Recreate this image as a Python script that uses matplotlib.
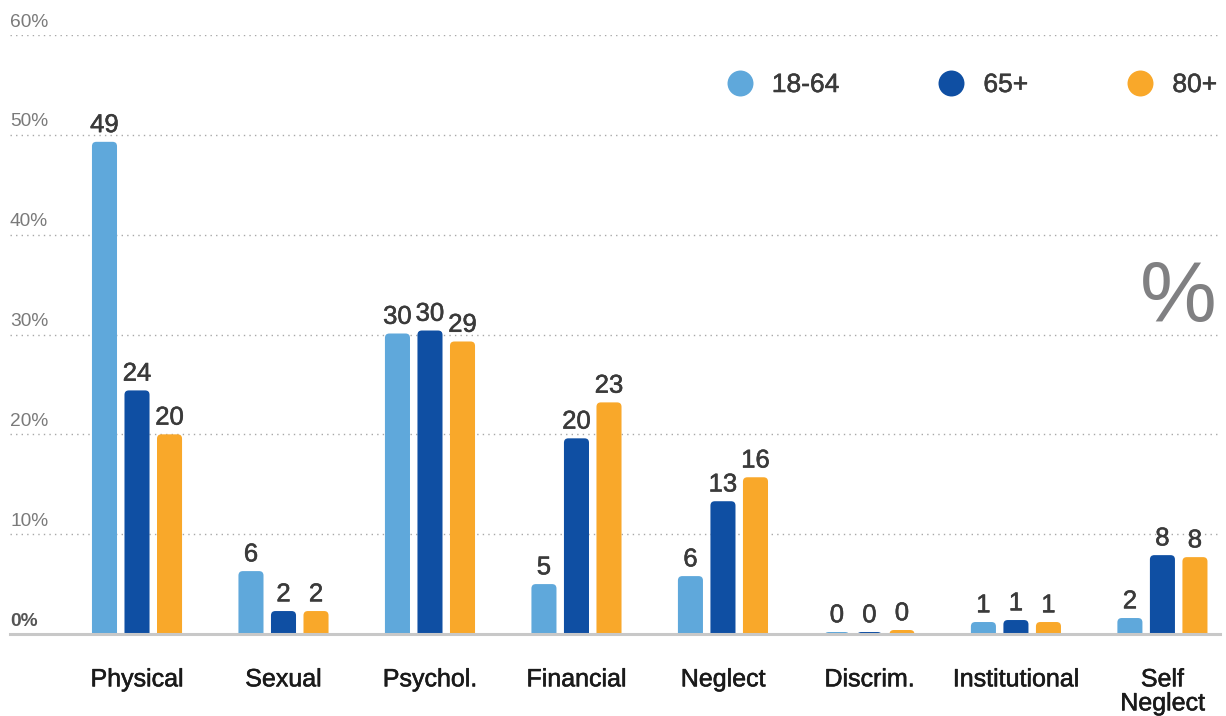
import numpy as np
import matplotlib
matplotlib.use("Agg")
import matplotlib.pyplot as plt
import matplotlib.patheffects as pe
from matplotlib.patches import FancyBboxPatch
from matplotlib.lines import Line2D
import matplotlib.transforms as mtransforms

plt.rcParams['font.family'] = ['Liberation Sans', 'DejaVu Sans']

# abuse type shares by age group (%)
categories = ['Physical', 'Sexual', 'Psychol.', 'Financial', 'Neglect',
              'Discrim.', 'Institutional', 'Self\nNeglect']
groups = ['18-64', '65+', '80+']
age_18_64 = [49.3, 6.3, 30.1, 5.0, 5.8, 0.2, 1.2, 1.6]
age_65 = [24.4, 2.3, 30.4, 19.6, 13.3, 0.2, 1.4, 7.9]
age_80 = [20.0, 2.3, 29.3, 23.2, 15.7, 0.4, 1.2, 7.7]
yticks = [0, 10, 20, 30, 40, 50, 60]

colors = ['#5fa8db', '#0f4fa3', '#f9a82a']
series = [age_18_64, age_65, age_80]

# slightly heavier strokes for the dark labels
def heavy(color):
    return [pe.withStroke(linewidth=0.4, foreground=color)]

fig = plt.figure(figsize=(12.26, 7.16), dpi=100)
ax = fig.add_axes([10 / 1226, 82 / 716, 1210 / 1226, 599 / 716])

x = np.arange(len(categories))
width = 0.171
step = 0.222
# pixel scale: x unit ~146.5 px, y unit 10 px
radius = 0.03
aspect = 146.5 / 10

for i, (vals, col) in enumerate(zip(series, colors)):
    for xi, v in zip(x, vals):
        left = xi + (i - 1) * step - width / 2
        bar = FancyBboxPatch((left, -2), width, v + 2,
                             boxstyle=f"round,pad=0,rounding_size={radius}",
                             mutation_aspect=aspect, facecolor=col,
                             edgecolor='none', zorder=3)
        ax.add_patch(bar)
        ax.annotate(f"{v:.0f}", (xi + (i - 1) * step, v), xytext=(0, 7),
                    textcoords='offset points', ha='center', va='baseline',
                    fontsize=18.5, color='#3a3a3a', zorder=4,
                    path_effects=heavy('#3a3a3a'))

ax.set_xlim(-0.867, 7.393)
ax.set_ylim(0, 60)

# dotted gridlines with labels sitting above them
ax.set_yticks(yticks)
ax.yaxis.grid(True, color='#a8a8a8', linestyle=(0, (1, 3)), linewidth=1)
ax.set_axisbelow(True)
ax.tick_params(axis='y', length=0, labelleft=False)
lift = mtransforms.ScaledTranslation(0, 6 / 72, fig.dpi_scale_trans)
trans = mtransforms.blended_transform_factory(ax.transAxes, ax.transData) + lift
for t in yticks:
    bold = t == 0
    ax.text(0, t, f"{t}%", transform=trans, ha='left', va='baseline',
            fontsize=13.8, color='#555555' if bold else '#7a7a7a',
            fontweight='bold' if bold else 'normal')

ax.axhline(0, color='#c8c8c8', lw=2.2, zorder=5, clip_on=False)

ax.set_xticks(x)
ax.set_xticklabels(categories, fontsize=18, color='#1a1a1a', linespacing=1.0)
for lbl in ax.get_xticklabels():
    lbl.set_path_effects(heavy('#1a1a1a'))
ax.tick_params(axis='x', length=0, pad=24)

for s in ax.spines.values():
    s.set_visible(False)

# big unit marker
ax.text(0.997, 0.521, '%', transform=ax.transAxes, ha='right', va='baseline',
        fontsize=62, color='#808082')

handles = [Line2D([], [], linestyle='none', marker='o', markersize=18.7,
                  markerfacecolor=c, markeredgecolor='none') for c in colors]
leg = ax.legend(handles, groups, ncol=3, frameon=False, loc='center right',
                bbox_to_anchor=(1217 / 1226, (716 - 85) / 716),
                bbox_transform=fig.transFigure, fontsize=19,
                handlelength=1.0, handletextpad=0.72, columnspacing=3.75,
                borderpad=0, borderaxespad=0, labelcolor='#3a3a3a')
for t in leg.get_texts():
    t.set_path_effects(heavy('#3a3a3a'))

fig.savefig('out.png', dpi=100)
